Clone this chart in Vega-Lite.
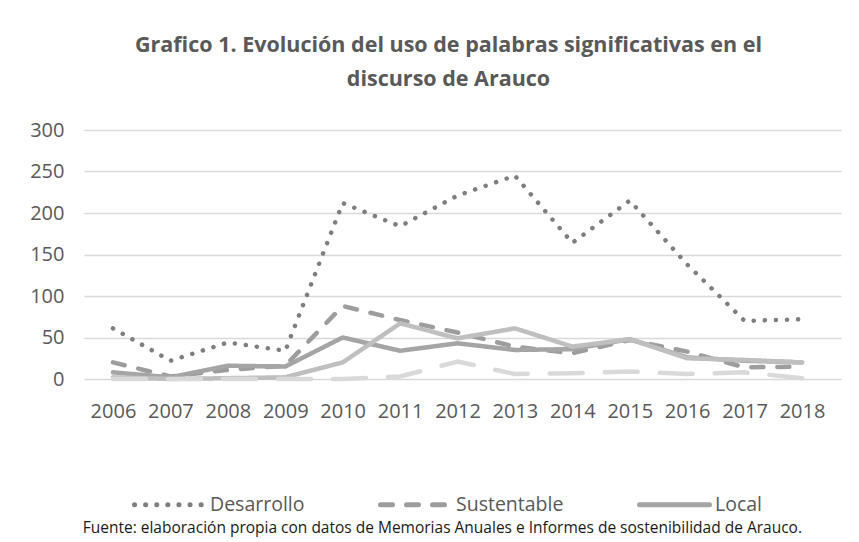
{
  "$schema": "https://vega.github.io/schema/vega-lite/v6.json",
  "background": "white",
  "padding": {"left": 29, "top": 34, "right": 5, "bottom": 0},
  "title": {
    "text": "Fuente: elaboración propia con datos de Memorias Anuales e Informes de sostenibilidad de Arauco.",
    "orient": "bottom",
    "anchor": "middle",
    "font": "Open Sans",
    "fontSize": 15.5,
    "fontWeight": "normal",
    "color": "#1a1a1a",
    "offset": -42,
    "dx": 7
  },
  "vconcat": [
    {
      "width": 757,
      "height": 249,
      "title": {
        "text": ["Grafico 1. Evolución del uso de palabras significativas en el", "discurso de Arauco"],
        "anchor": "middle",
        "font": "Open Sans",
        "fontSize": 21.5,
        "fontWeight": "bold",
        "color": "#595959",
        "lineHeight": 34,
        "offset": 30,
        "dx": -14
      },
      "data": {
        "values": [
          {"year": 2006, "serie": "Desarrollo", "value": 61},
          {"year": 2007, "serie": "Desarrollo", "value": 22},
          {"year": 2008, "serie": "Desarrollo", "value": 44},
          {"year": 2009, "serie": "Desarrollo", "value": 34},
          {"year": 2010, "serie": "Desarrollo", "value": 212},
          {"year": 2011, "serie": "Desarrollo", "value": 184},
          {"year": 2012, "serie": "Desarrollo", "value": 221},
          {"year": 2013, "serie": "Desarrollo", "value": 245},
          {"year": 2014, "serie": "Desarrollo", "value": 164},
          {"year": 2015, "serie": "Desarrollo", "value": 215},
          {"year": 2016, "serie": "Desarrollo", "value": 138},
          {"year": 2017, "serie": "Desarrollo", "value": 70},
          {"year": 2018, "serie": "Desarrollo", "value": 72},
          {"year": 2006, "serie": "Sustentable", "value": 20},
          {"year": 2007, "serie": "Sustentable", "value": 3},
          {"year": 2008, "serie": "Sustentable", "value": 11},
          {"year": 2009, "serie": "Sustentable", "value": 16},
          {"year": 2010, "serie": "Sustentable", "value": 88},
          {"year": 2011, "serie": "Sustentable", "value": 71},
          {"year": 2012, "serie": "Sustentable", "value": 56},
          {"year": 2013, "serie": "Sustentable", "value": 39},
          {"year": 2014, "serie": "Sustentable", "value": 31},
          {"year": 2015, "serie": "Sustentable", "value": 47},
          {"year": 2016, "serie": "Sustentable", "value": 33},
          {"year": 2017, "serie": "Sustentable", "value": 14},
          {"year": 2018, "serie": "Sustentable", "value": 15},
          {"year": 2006, "serie": "Local", "value": 8},
          {"year": 2007, "serie": "Local", "value": 2},
          {"year": 2008, "serie": "Local", "value": 16},
          {"year": 2009, "serie": "Local", "value": 15},
          {"year": 2010, "serie": "Local", "value": 50},
          {"year": 2011, "serie": "Local", "value": 34},
          {"year": 2012, "serie": "Local", "value": 43},
          {"year": 2013, "serie": "Local", "value": 35},
          {"year": 2014, "serie": "Local", "value": 36},
          {"year": 2015, "serie": "Local", "value": 48},
          {"year": 2016, "serie": "Local", "value": 26},
          {"year": 2017, "serie": "Local", "value": 22},
          {"year": 2018, "serie": "Local", "value": 20},
          {"year": 2006, "serie": "Serie 4", "value": 2},
          {"year": 2007, "serie": "Serie 4", "value": 0},
          {"year": 2008, "serie": "Serie 4", "value": 1},
          {"year": 2009, "serie": "Serie 4", "value": 2},
          {"year": 2010, "serie": "Serie 4", "value": 20},
          {"year": 2011, "serie": "Serie 4", "value": 67},
          {"year": 2012, "serie": "Serie 4", "value": 49},
          {"year": 2013, "serie": "Serie 4", "value": 61},
          {"year": 2014, "serie": "Serie 4", "value": 39},
          {"year": 2015, "serie": "Serie 4", "value": 48},
          {"year": 2016, "serie": "Serie 4", "value": 25},
          {"year": 2017, "serie": "Serie 4", "value": 23},
          {"year": 2018, "serie": "Serie 4", "value": 20},
          {"year": 2006, "serie": "Serie 5", "value": 0},
          {"year": 2007, "serie": "Serie 5", "value": 0},
          {"year": 2008, "serie": "Serie 5", "value": 0},
          {"year": 2009, "serie": "Serie 5", "value": 0},
          {"year": 2010, "serie": "Serie 5", "value": 0},
          {"year": 2011, "serie": "Serie 5", "value": 3},
          {"year": 2012, "serie": "Serie 5", "value": 21},
          {"year": 2013, "serie": "Serie 5", "value": 6},
          {"year": 2014, "serie": "Serie 5", "value": 7},
          {"year": 2015, "serie": "Serie 5", "value": 9},
          {"year": 2016, "serie": "Serie 5", "value": 6},
          {"year": 2017, "serie": "Serie 5", "value": 8},
          {"year": 2018, "serie": "Serie 5", "value": 1}
        ]
      },
      "mark": {"type": "line", "strokeWidth": 4.5, "strokeCap": "round", "strokeJoin": "round"},
      "encoding": {
        "x": {
          "field": "year",
          "type": "quantitative",
          "scale": {"domain": [2005.495, 2018.679], "nice": false, "zero": false},
          "axis": {"title": null, "values": [2006, 2007, 2008, 2009, 2010, 2011, 2012, 2013, 2014, 2015, 2016, 2017, 2018], "format": "d", "grid": false, "labelAngle": 0, "ticks": false, "domain": false, "labelPadding": 22, "labelFontSize": 20, "labelFont": "Open Sans", "labelColor": "#595959", "labelFlush": false, "labelOverlap": false}
        },
        "y": {
          "field": "value",
          "type": "quantitative",
          "scale": {"domain": [0, 300], "nice": false},
          "axis": {"title": null, "values": [0, 50, 100, 150, 200, 250, 300], "ticks": false, "domain": false, "labelPadding": 20, "labelFontSize": 20, "labelFont": "Open Sans", "labelColor": "#595959", "gridColor": "#d9d9d9", "gridWidth": 1.5}
        },
        "color": {
          "field": "serie",
          "type": "nominal",
          "scale": {
            "domain": ["Desarrollo", "Sustentable", "Local", "Serie 4", "Serie 5"],
            "range": ["#7f7f7f", "#9d9d9d", "#a5a5a5", "#bfbfbf", "#d9d9d9"]
          },
          "legend": {
            "title": null, "orient": "bottom", "direction": "horizontal",
            "values": ["Desarrollo", "Sustentable", "Local"],
            "symbolType": "stroke", "symbolSize": 4900, "symbolStrokeWidth": 5,
            "labelFont": "Open Sans", "labelFontSize": 19.5, "labelColor": "#595959",
            "labelOffset": 3, "columnPadding": 65, "offset": -2, "padding": 48,
            "encode": {"symbols": {"update": {"strokeCap": {"value": "round"}}}}
          }
        },
        "strokeDash": {
          "field": "serie",
          "type": "nominal",
          "scale": {
            "domain": ["Desarrollo", "Sustentable", "Local", "Serie 4", "Serie 5"],
            "range": [[0.1, 11], [12, 14], [1, 0], [1, 0], [33, 22]]
          },
          "legend": {
            "title": null, "orient": "bottom", "direction": "horizontal",
            "values": ["Desarrollo", "Sustentable", "Local"],
            "symbolType": "stroke", "symbolSize": 4900, "symbolStrokeWidth": 5,
            "labelFont": "Open Sans", "labelFontSize": 19.5, "labelColor": "#595959",
            "labelOffset": 3, "columnPadding": 65, "offset": -2, "padding": 48,
            "encode": {"symbols": {"update": {"strokeCap": {"value": "round"}}}}
          }
        }
      }
    }
  ],
  "config": {
    "view": {"stroke": null},
    "font": "Open Sans"
  }
}
